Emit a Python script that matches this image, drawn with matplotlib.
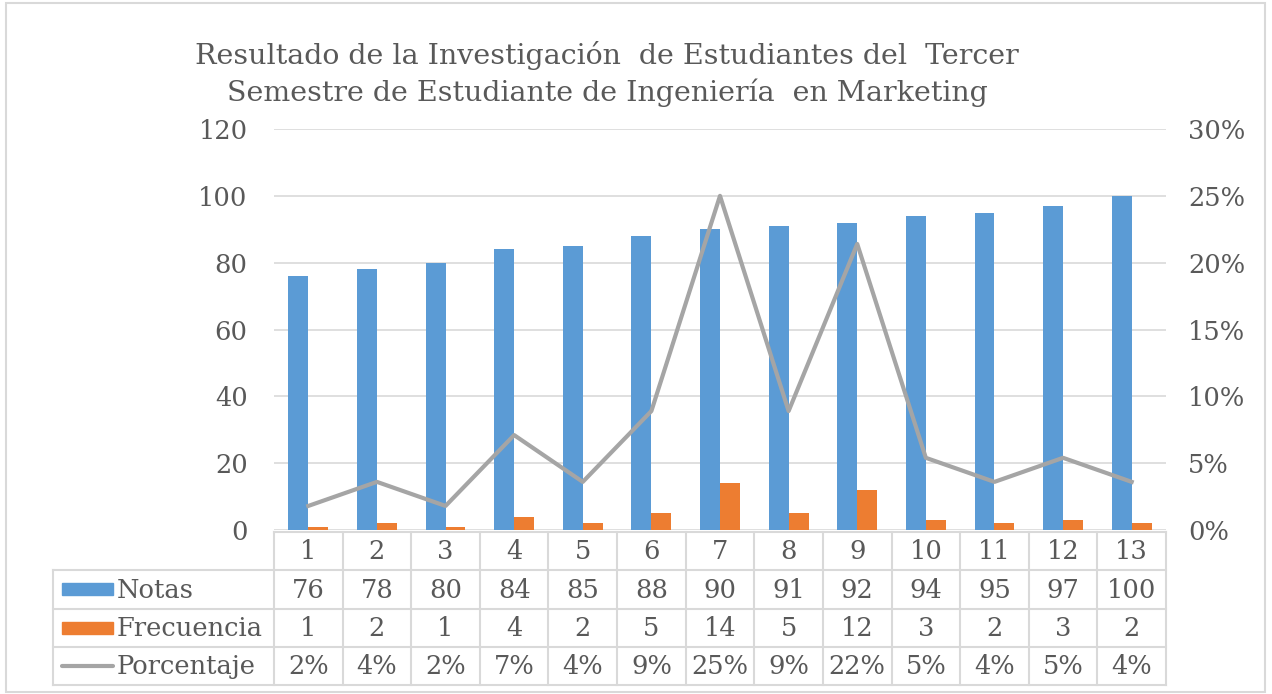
import numpy as np
import matplotlib
matplotlib.use("Agg")
from matplotlib import pyplot as plt
from matplotlib.patches import Rectangle
from matplotlib.ticker import PercentFormatter

# datos del grafico
categorias = ["1", "2", "3", "4", "5", "6", "7", "8", "9", "10", "11", "12", "13"]
notas = [76, 78, 80, 84, 85, 88, 90, 91, 92, 94, 95, 97, 100]
frecuencia = [1, 2, 1, 4, 2, 5, 14, 5, 12, 3, 2, 3, 2]
porcentaje = [0.018, 0.036, 0.018, 0.071, 0.036, 0.089, 0.25, 0.089, 0.214,
              0.054, 0.036, 0.054, 0.036]
porcentaje_txt = ["2%", "4%", "2%", "7%", "4%", "9%", "25%", "9%", "22%",
                  "5%", "4%", "5%", "4%"]
series = ["Notas", "Frecuencia", "Porcentaje"]
titulo = ["Resultado de la Investigación  de Estudiantes del  Tercer",
          "Semestre de Estudiante de Ingeniería  en Marketing"]

AZUL, NARANJA, GRIS = "#5B9BD5", "#ED7D31", "#A5A5A5"
TXT, REJ = "#595959", "#D9D9D9"
FS = 18.5

plt.rcParams['font.family'] = ['DejaVu Serif']

W, H = 1272, 694
fig = plt.figure(figsize=(W / 100, H / 100), dpi=100)

# marco exterior
fig.add_artist(Rectangle((6 / W, 2 / H), 1259 / W, 689 / H, transform=fig.transFigure,
                         fill=False, edgecolor=REJ, lw=1.5))

for t, yy in zip(titulo, [55, 93]):
    fig.text(607 / W, 1 - yy / H, t, ha="center", va="center", fontsize=20.5,
             color=TXT)

# area del grafico
x0, x1, yb, yt = 274, 1166, 530, 129
ax = fig.add_axes([x0 / W, 1 - yb / H, (x1 - x0) / W, (yb - yt) / H])
x = np.arange(len(categorias))
w = 0.29
ax.bar(x - w / 2, notas, w, color=AZUL, zorder=2)
ax.bar(x + w / 2, frecuencia, w, color=NARANJA, zorder=2)
ax.set_xlim(-0.5, len(categorias) - 0.5)
ax.set_ylim(0, 120)
ax.set_yticks(range(0, 121, 20))
ax.yaxis.grid(True, color=REJ, lw=1.2, zorder=0)
ax.set_axisbelow(True)
ax.set_xticks([])
for s in ax.spines.values():
    s.set_visible(False)
ax.tick_params(axis="y", length=0, pad=19, labelsize=FS, labelcolor=TXT)

ax2 = ax.twinx()
ax2.plot(x, porcentaje, color=GRIS, lw=3, zorder=3)
ax2.set_ylim(0, 0.30)
ax2.set_yticks(np.arange(0, 0.301, 0.05))
ax2.yaxis.set_major_formatter(PercentFormatter(1.0, decimals=0))
for s in ax2.spines.values():
    s.set_visible(False)
ax2.tick_params(axis="y", length=0, pad=16, labelsize=FS, labelcolor=TXT)

# tabla de datos
tl = 53
cw = (x1 - x0) / len(categorias)
left = -0.5 - (x0 - tl) / cw
tb, tt = 685, 532
at = fig.add_axes([tl / W, 1 - tb / H, (x1 - tl) / W, (tb - tt) / H])
at.set_xlim(left, len(categorias) - 0.5)
at.set_ylim(4, 0)
at.axis("off")
n = len(categorias)
lk = dict(color=REJ, lw=1.5, clip_on=False)
at.plot([-0.5, n - 0.5], [0, 0], **lk)
for r in range(1, 5):
    at.plot([left, n - 0.5], [r, r], **lk)
for i in range(n + 1):
    at.plot([i - 0.5, i - 0.5], [0, 4], **lk)
at.plot([left, left], [1, 4], **lk)

filas = [categorias, [str(v) for v in notas], [str(v) for v in frecuencia], porcentaje_txt]
for r, fila in enumerate(filas):
    for i, t in enumerate(fila):
        at.text(i, r + 0.52, t, ha="center", va="center", fontsize=FS, color=TXT)

kx0 = left + 9 / cw
kx1 = left + 60 / cw
colores = [AZUL, NARANJA, GRIS]
for r, (nom, c) in enumerate(zip(series, colores), start=1):
    if nom == "Porcentaje":
        at.plot([kx0, kx1], [r + 0.5, r + 0.5], color=c, lw=3, solid_capstyle="round")
    else:
        at.add_patch(Rectangle((kx0, r + 0.34), kx1 - kx0, 0.32, color=c))
    at.text(left + 64 / cw, r + 0.52, nom, ha="left", va="center", fontsize=FS, color=TXT)

fig.savefig("out.png", dpi=100)
